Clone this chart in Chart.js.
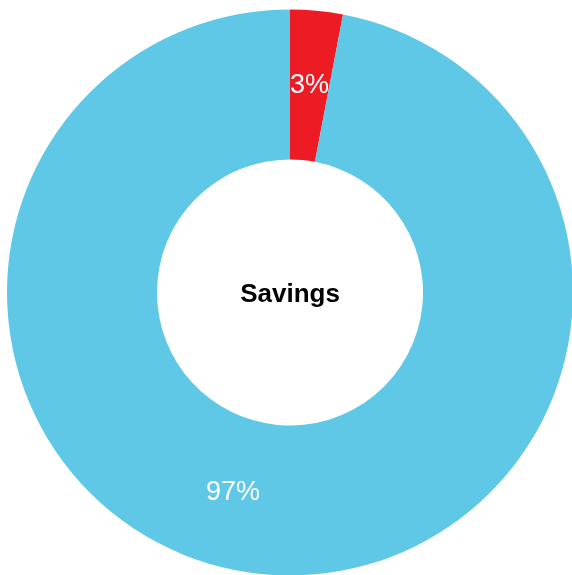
<!DOCTYPE html>
<html>
<head>
<meta charset="utf-8">
<script src="https://cdn.jsdelivr.net/npm/chart.js@4/dist/chart.umd.min.js"></script>
<style>
  html, body { margin: 0; padding: 0; background: #fff; overflow: hidden; }
  #wrap { position: absolute; left: 0; top: 0; width: 580px; height: 585px; }
</style>
</head>
<body>
<div id="wrap"><canvas id="myChart"></canvas></div>
<script>
// Datos
const categorias = ["Gastos", "Ahorro"];
const valores = [3, 97];
const etiquetas = ["3%", "97%"];
const colores = ["#ED1C24", "#5FC8E7"];
// posicion de cada etiqueta a lo largo de su arco (0 = inicio, 1 = fin)
const posEtiqueta = [0.5, 0.53];

const ctx = document.getElementById("myChart");

// Dibuja el porcentaje sobre cada sector y el titulo en el centro
const etiquetasPlugin = {
  id: "etiquetas",
  afterDatasetsDraw(chart) {
    const c = chart.ctx;
    const meta = chart.getDatasetMeta(0);
    c.save();
    c.textAlign = "center";
    c.textBaseline = "middle";
    c.fillStyle = "#ffffff";
    c.font = '27px "Liberation Sans", Arial, sans-serif';
    meta.data.forEach((arc, i) => {
      const p = arc.getProps(["x", "y", "startAngle", "endAngle", "innerRadius", "outerRadius"], true);
      const ang = p.startAngle + (p.endAngle - p.startAngle) * posEtiqueta[i];
      const r = (p.innerRadius + p.outerRadius) / 2;
      c.fillText(etiquetas[i], p.x + Math.cos(ang) * r, p.y + Math.sin(ang) * r);
    });
    const centro = meta.data[0];
    c.fillStyle = "#000000";
    c.font = 'bold 26px "Liberation Sans", Arial, sans-serif';
    c.fillText("Savings", centro.x, centro.y + 2);
    c.restore();
  },
};

new Chart(ctx, {
  type: "doughnut",
  data: {
    labels: categorias,
    datasets: [
      {
        data: valores,
        backgroundColor: colores,
        borderWidth: 0,
      },
    ],
  },
  options: {
    responsive: true,
    maintainAspectRatio: false,
    animation: false,
    cutout: "47%",
    layout: { padding: 7 },
    plugins: {
      legend: { display: false },
      tooltip: { enabled: false },
    },
  },
  plugins: [etiquetasPlugin],
});
</script>
</body>
</html>
